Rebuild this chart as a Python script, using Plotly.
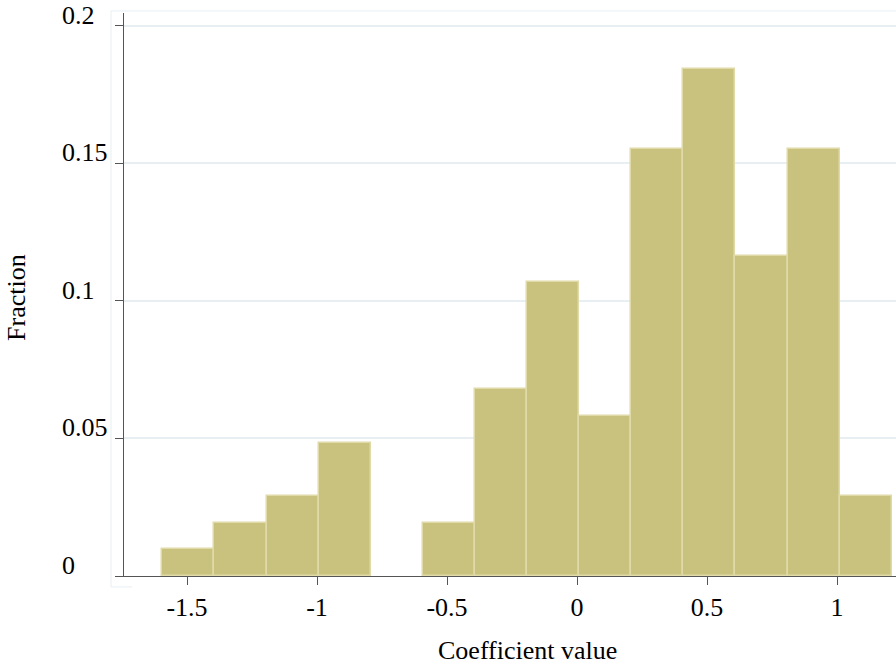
import plotly.graph_objects as go

# Data
bin_start = -1.595
bin_width = 0.2004
fraction = [0.0097, 0.0194, 0.0291, 0.0485, 0.0, 0.0194, 0.0680, 0.1068,
            0.0583, 0.1553, 0.1845, 0.1165, 0.1553, 0.0291]
x_ticks = [-1.5, -1.0, -0.5, 0.0, 0.5, 1.0]
x_ticktext = ["-1.5", "-1", "-0.5", "0", "0.5", "1"]
y_ticks = [0.0, 0.05, 0.1, 0.15, 0.2]
y_ticktext = ["0", "0.05", "0.1", "0.15", "0.2"]

FONT = "Liberation Serif, Times New Roman, serif"
FS = 26

centers = [bin_start + bin_width * (i + 0.5) for i in range(len(fraction))]
heights = [v if v > 0 else None for v in fraction]

fig = go.Figure()
fig.add_trace(go.Bar(
    x=centers, y=heights, width=[bin_width] * len(centers),
    marker=dict(color="#c9c27f", line=dict(color="#dfdaa8", width=1.5)),
    showlegend=False, hoverinfo="x+y",
))

annotations = []
for v, t in zip(y_ticks, y_ticktext):
    annotations.append(dict(
        text=t, xref="paper", x=-0.0829, xanchor="left",
        yref="y", y=v, yanchor="bottom", yshift=-6,
        showarrow=False, font=dict(family=FONT, size=FS, color="black"),
    ))
annotations.append(dict(
    text="Coefficient value", xref="paper", x=0.5227, xanchor="center",
    yref="paper", y=-0.133, yanchor="middle", showarrow=False,
    font=dict(family=FONT, size=FS, color="black"),
))
annotations.append(dict(
    text="Fraction", xref="paper", x=-0.1386, xanchor="center",
    yref="paper", y=0.4938, yanchor="middle", textangle=-90, showarrow=False,
    font=dict(family=FONT, size=FS, color="black"),
))

faint = "#e9eef1"
shapes = [
    dict(type="line", xref="paper", yref="paper", x0=-0.0168, x1=-0.0168,
         y0=-0.0195, y1=1.0036, line=dict(color=faint, width=1), layer="below"),
    dict(type="line", xref="paper", yref="paper", x0=-0.0168, x1=1.0,
         y0=1.0036, y1=1.0036, line=dict(color=faint, width=1), layer="below"),
    dict(type="line", xref="paper", yref="paper", x0=-0.0168, x1=0.0104,
         y0=-0.0195, y1=-0.0195, line=dict(color=faint, width=1), layer="below"),
]

fig.update_layout(
    width=896, height=664,
    margin=dict(l=124, r=0, t=13, b=88),
    paper_bgcolor="white", plot_bgcolor="white",
    bargap=0,
    font=dict(family=FONT, size=FS, color="black"),
    annotations=annotations,
    shapes=shapes,
    xaxis=dict(
        range=[-1.7423, 1.2269], tickvals=x_ticks, ticktext=x_ticktext,
        ticks="outside", ticklen=8, tickwidth=1, tickcolor="#555555",
        showline=True, linecolor="#555555", linewidth=1,
        showgrid=False, zeroline=False,
        tickfont=dict(family=FONT, size=FS, color="black"),
        ticklabelstandoff=0,
    ),
    yaxis=dict(
        range=[0, 0.2047], tickvals=y_ticks, showticklabels=False,
        ticks="outside", ticklen=8, tickwidth=1, tickcolor="#555555",
        showline=True, linecolor="#555555", linewidth=1,
        showgrid=True, gridcolor="#e8eff3", gridwidth=1.5, zeroline=False,
    ),
)

fig.write_html(
    "out.html",
    config={"displayModeBar": False},
    post_script="document.body.style.margin='0';document.body.style.overflow='hidden';",
)
